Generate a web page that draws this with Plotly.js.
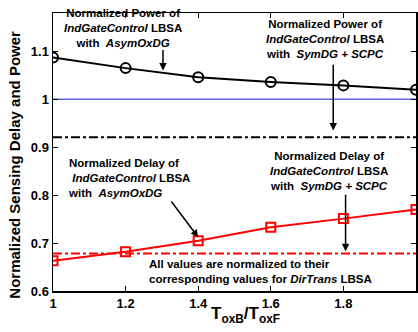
<!DOCTYPE html>
<html><head><meta charset="utf-8">
<script src="https://cdn.plot.ly/plotly-3.0.1.min.js"></script>
<style>html,body{margin:0;padding:0;background:#fff}#c{width:418px;height:332px}</style>
</head><body><div id="c"></div>
<script>
const ratio = [1, 1.2, 1.4, 1.6, 1.8, 2.0];
const powerAsym = [1.087, 1.065, 1.046, 1.036, 1.029, 1.020];
const delayAsym = [0.663, 0.682, 0.705, 0.733, 0.751, 0.770];
const refX = [1, 2];
const dirTrans = [1, 1];
const powerSym = [0.921, 0.921];
const delaySym = [0.678, 0.678];
const xTicks = [1, 1.2, 1.4, 1.6, 1.8, 2];
const xTickText = ['1', '1.2', '1.4', '1.6', '1.8', '2'];
const yTicks = [0.6, 0.7, 0.8, 0.9, 1, 1.1];
const yTickText = ['0.6', '0.7', '0.8', '0.9', '1', '1.1'];

const F = 'Liberation Sans, Arial, Helvetica, sans-serif';
const traces = [
  {x: refX, y: dirTrans, mode: 'lines', line: {color: '#6262dc', width: 1.5}},
  {x: refX, y: powerSym, mode: 'lines', line: {color: '#000', width: 2, dash: 'dashdot'}},
  {x: refX, y: delaySym, mode: 'lines', line: {color: '#ff0000', width: 2, dash: 'dashdot'}},
  {x: ratio, y: powerAsym, mode: 'lines+markers', line: {color: '#000', width: 2},
   marker: {symbol: 'circle-open', size: 10, color: '#000', line: {width: 2}}},
  {x: ratio, y: delayAsym, mode: 'lines+markers', line: {color: '#ff0000', width: 2},
   marker: {symbol: 'square-open', size: 9, color: '#ff0000', line: {width: 2}}}
];
const tf = {family: F, size: 11.5, color: '#000'};
const arrow = (x, y, ax, ay) => ({x, y, ax, ay, axref: 'x', ayref: 'y', xref: 'x', yref: 'y',
  text: '', showarrow: true, arrowhead: 2, arrowsize: 1, arrowwidth: 1.5, arrowcolor: '#000'});
const axisBase = {ticks: 'inside', ticklen: 5, tickwidth: 1, tickcolor: '#000', showline: true,
  linecolor: '#000', linewidth: 1.5, mirror: 'ticks', showgrid: false, zeroline: false,
  tickfont: {family: F, size: 13, weight: 'bold', color: '#000'}};
const layout = {
  width: 418, height: 332,
  margin: {l: 53, r: 2, t: 13, b: 41},
  paper_bgcolor: '#fff', plot_bgcolor: '#fff',
  showlegend: false,
  font: {family: F, color: '#000'},
  xaxis: Object.assign({range: [1, 2], tickvals: xTicks, ticktext: xTickText}, axisBase),
  yaxis: Object.assign({range: [0.6, 1.18], tickvals: yTicks, ticktext: yTickText}, axisBase),
  annotations: [
    {x: -0.107, y: 0.455, xref: 'paper', yref: 'paper', textangle: -90, xanchor: 'center', yanchor: 'middle',
     showarrow: false, font: {family: F, size: 15, color: '#000'},
     text: '<b>Normalized Sensing Delay and Power</b>'},
    {x: 0.529, y: -0.04, xref: 'paper', yref: 'paper', xanchor: 'center', yanchor: 'top',
     showarrow: false, font: {family: F, size: 17, color: '#000'},
     text: '<b>T<sub>oxB</sub>/T<sub>oxF</sub></b>'},
    {x: 1.193, y: 1.148, xref: 'x', yref: 'y', showarrow: false, align: 'center', font: tf,
     text: '<b>Normalized Power of<br><i>IndGateControl</i> LBSA<br>with&nbsp; <i>AsymOxDG</i></b>'},
    {x: 1.75, y: 1.125, xref: 'x', yref: 'y', showarrow: false, align: 'center', font: tf,
     text: '<b>Normalized Power of<br><i>IndGateControl</i> LBSA<br>with&nbsp; <i>SymDG + SCPC</i></b>'},
    {x: 1.036, y: 0.835, xref: 'x', yref: 'y', xanchor: 'left', showarrow: false, align: 'left', font: tf,
     text: '<b>Normalized Delay of<br>&nbsp;<i>IndGateControl</i> LBSA<br>with&nbsp; <i>AsymOxDG</i></b>'},
    {x: 1.759, y: 0.85, xref: 'x', yref: 'y', showarrow: false, align: 'center', font: tf,
     text: '<b>Normalized Delay of<br><i>IndGateControl</i> LBSA<br>with&nbsp; <i>SymDG + SCPC</i></b>'},
    {x: 1.259, y: 0.64, xref: 'x', yref: 'y', xanchor: 'left', showarrow: false, align: 'left', font: tf,
     text: '<b>All values are normalized to their<br>corresponding values for <i>DirTrans</i> LBSA</b>'},
    arrow(1.303, 1.060, 1.303, 1.106),
    arrow(1.772, 0.935, 1.772, 1.075),
    arrow(1.40, 0.712, 1.323, 0.79),
    arrow(1.806, 0.683, 1.806, 0.804)
  ]
};
Plotly.newPlot('c', traces, layout, {displayModeBar: false, staticPlot: true});
</script></body></html>
